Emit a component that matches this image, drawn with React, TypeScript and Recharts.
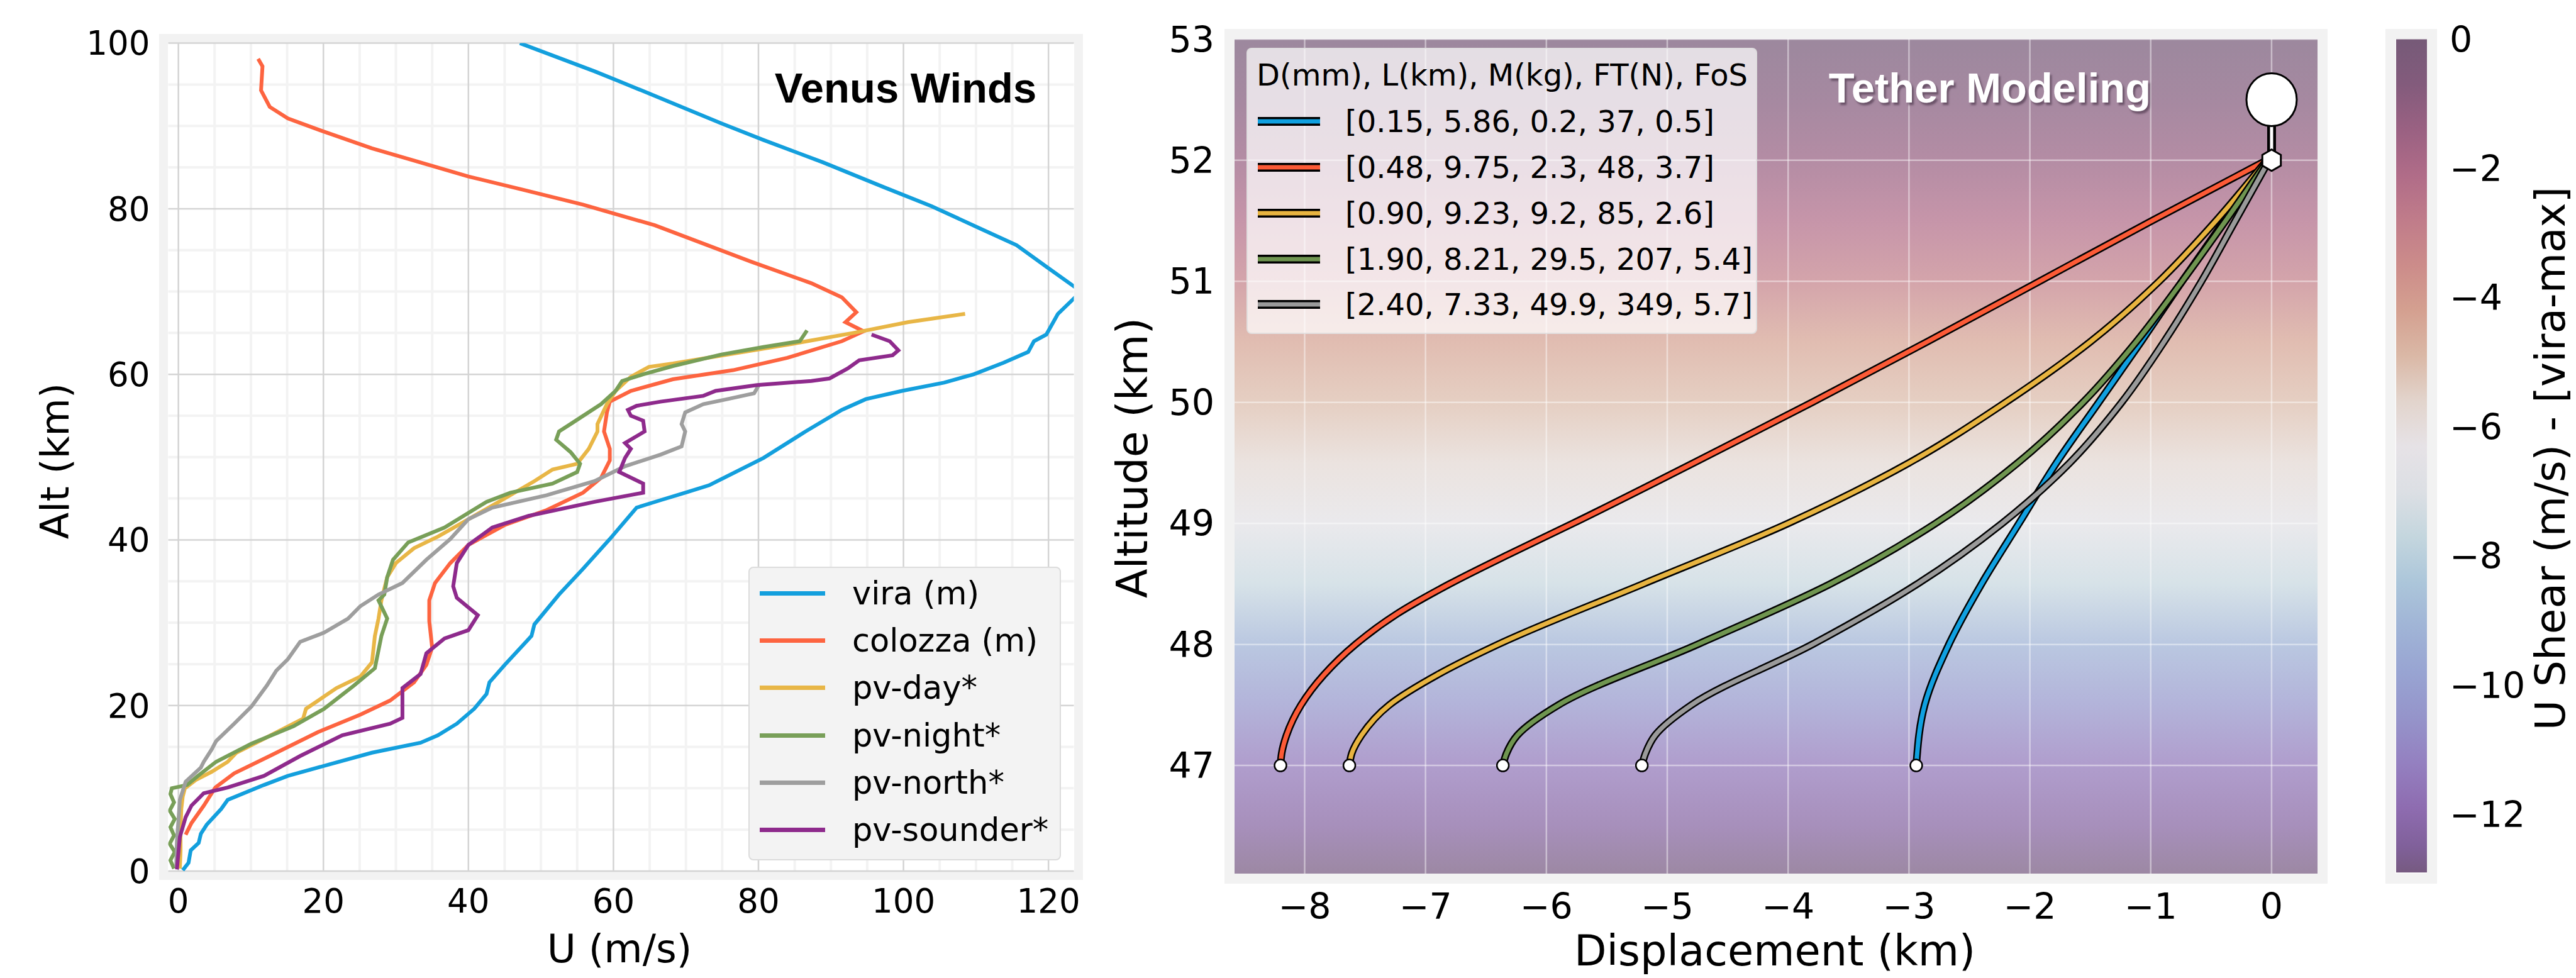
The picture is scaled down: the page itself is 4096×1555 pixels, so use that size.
import React from "react";
import { LineChart, Line, XAxis, YAxis, CartesianGrid, BarChart, Bar } from "recharts";

// ---------- Venus wind profiles: altitude (km) vs zonal wind U (m/s) ----------
const viraAlt = [0.1, 1.0, 2.5, 3.4, 4.5, 5.6, 7.5, 8.6, 10.4, 11.5, 12.9, 14.3, 15.5, 16.4, 17.8, 19.6, 21.4, 22.8, 24.9, 28.4, 29.8, 33.4, 36.5, 40.1, 43.9, 44.8, 45.7, 46.6, 49.9, 53.1, 55.7, 57.0, 58.0, 59.0, 60.0, 61.4, 62.7, 64.0, 64.8, 67.3, 70.0, 73.0, 75.6, 77.6, 80.3, 82.6, 85.6, 88.3, 90.3, 95.4, 96.6, 100];
const viraU = [0.6, 1.4, 1.7, 2.8, 3.1, 3.9, 5.9, 6.8, 11.8, 15.1, 20.9, 26.7, 33.4, 35.8, 38.4, 40.8, 42.5, 42.9, 45.0, 48.7, 49.1, 52.5, 55.8, 59.5, 63.2, 66.5, 69.9, 73.2, 80.7, 86.5, 91.5, 94.8, 99.8, 105.6, 109.7, 113.8, 117.2, 118.0, 119.7, 121.3, 124.5, 119.7, 115.6, 110.6, 103.9, 97.3, 88.9, 80.7, 74.9, 60.8, 57.4, 47.1];

const colozzaAlt = [4.4, 5.8, 7.9, 10.1, 11.8, 13.9, 16.8, 18.9, 20.6, 22.8, 24.9, 27.0, 30.2, 32.7, 34.8, 37.2, 39.4, 41.8, 43.6, 45.7, 47.5, 49.6, 51.0, 53.1, 55.4, 56.7, 58.0, 59.4, 60.5, 62.0, 64.0, 65.2, 66.3, 67.5, 69.3, 71.0, 73.6, 78.0, 80.5, 82.3, 83.9, 87.3, 89.3, 90.9, 92.3, 94.3, 97.2, 98.1];
const colozzaU = [1.0, 1.8, 3.5, 5.1, 7.7, 12.6, 19.3, 25.1, 29.2, 32.5, 34.2, 35.0, 34.6, 34.6, 35.4, 37.5, 40.0, 45.0, 50.8, 55.8, 58.3, 59.5, 59.5, 58.7, 59.1, 59.5, 62.4, 68.2, 76.5, 84.0, 91.5, 94.5, 92.0, 93.5, 91.5, 87.3, 79.0, 65.7, 55.8, 47.5, 40.0, 26.7, 20.1, 15.1, 12.6, 11.4, 11.6, 11.0];

const pvDayAlt = [0.3, 2.5, 5.0, 7.5, 9.0, 10.0, 11.0, 12.0, 13.2, 14.3, 16.2, 18.4, 19.6, 22.1, 23.5, 25.2, 28.4, 30.5, 32.7, 35.5, 37.2, 39.0, 40.4, 42.1, 44.6, 47.1, 48.5, 49.2, 51.0, 53.1, 54.0, 56.4, 58.0, 59.7, 60.9, 61.3, 62.5, 63.7, 65.0, 66.3, 67.3];
const pvDayU = [0.2, 0.3, 0.3, 0.4, 0.6, 0.9, 2.4, 4.6, 6.8, 8.0, 12.3, 17.2, 17.6, 21.8, 25.1, 26.7, 27.1, 27.6, 28.0, 28.8, 30.0, 32.5, 35.8, 39.2, 44.2, 49.1, 51.6, 55.0, 56.6, 57.8, 57.8, 59.1, 60.3, 62.4, 64.9, 68.2, 76.5, 84.8, 93.1, 100.6, 108.5];

const pvNightAlt = [0.3, 1.3, 2.3, 3.3, 4.3, 5.3, 6.3, 7.3, 8.3, 9.3, 10.0, 10.4, 11.5, 13.2, 15.4, 17.5, 19.6, 22.4, 24.5, 28.4, 30.5, 32.7, 33.4, 35.5, 37.6, 39.7, 41.5, 44.6, 45.7, 46.8, 48.2, 49.2, 50.6, 52.1, 53.1, 54.0, 56.4, 58.0, 59.2, 60.0, 61.0, 62.4, 63.3, 64.0, 65.3];
const pvNightU = [-0.6, -1.1, -0.5, -1.2, -0.6, -1.1, -0.5, -1.2, -0.6, -1.1, -0.9, 1.2, 2.7, 5.2, 10.1, 15.9, 20.1, 24.2, 27.1, 28.0, 28.8, 27.6, 28.4, 28.8, 29.6, 31.7, 36.7, 42.5, 45.8, 51.6, 55.0, 55.4, 54.1, 52.1, 52.5, 54.1, 58.3, 60.3, 61.2, 64.1, 68.2, 74.9, 80.7, 85.7, 86.7];

const pvNorthAlt = [0.5, 3.7, 6.0, 8.6, 10.8, 12.5, 13.2, 14.7, 15.7, 17.8, 19.9, 22.4, 24.2, 25.6, 27.7, 28.8, 30.5, 32.0, 33.4, 34.8, 37.6, 40.1, 42.5, 43.9, 45.4, 47.1, 48.9, 50.3, 51.3, 53.1, 54.0, 55.4, 56.4, 57.0, 57.7, 58.6];
const pvNorthU = [-0.3, -0.2, 0.0, 0.2, 1.0, 3.1, 3.5, 4.6, 5.2, 7.7, 10.1, 12.2, 13.5, 15.1, 16.8, 20.1, 23.4, 25.1, 27.6, 30.9, 34.2, 37.5, 40.0, 43.3, 50.8, 57.4, 61.6, 66.5, 69.4, 69.9, 69.4, 69.9, 72.4, 75.7, 79.4, 80.0];

const pvSounderAlt = [0.2, 4.1, 6.5, 7.9, 9.4, 10.1, 11.5, 13.9, 16.4, 17.8, 18.5, 22.1, 23.8, 26.3, 28.1, 29.1, 30.9, 33.0, 34.4, 37.2, 39.4, 41.5, 42.9, 44.6, 45.7, 46.8, 48.2, 49.9, 51.0, 51.7, 53.1, 54.4, 55.0, 55.7, 56.2, 56.7, 57.4, 58.0, 58.7, 59.2, 59.5, 60.7, 61.7, 62.3, 62.9, 64.0, 64.8];
const pvSounderU = [-0.2, 0.2, 1.0, 1.8, 3.5, 6.8, 11.8, 16.8, 22.6, 29.2, 30.9, 30.9, 33.4, 34.2, 36.7, 40.0, 41.3, 38.4, 37.9, 38.4, 40.0, 43.3, 48.3, 57.4, 64.1, 64.1, 60.8, 61.6, 62.4, 61.6, 64.3, 64.1, 62.4, 62.0, 63.2, 66.5, 72.4, 74.1, 79.8, 87.3, 89.8, 92.3, 93.9, 98.5, 99.3, 98.1, 95.6];

const windNames = ["vira (m)", "colozza (m)", "pv-day*", "pv-night*", "pv-north*", "pv-sounder*"];
const windColors = ["#139fdd", "#fd6440", "#e8b646", "#789f58", "#9e9e9e", "#8e2a8c"];

const uTicks = [0, 20, 40, 60, 80, 100, 120];
const uMinor = [5, 10, 15, 25, 30, 35, 45, 50, 55, 65, 70, 75, 85, 90, 95, 105, 110, 115];
const windAltTicks = [0, 20, 40, 60, 80, 100];
const windAltMinor = [5, 10, 15, 25, 30, 35, 45, 50, 55, 65, 70, 75, 85, 90, 95];

// ---------- Tether shapes: altitude (km) vs displacement (km) ----------
const tetherLabels = [
  "[0.15, 5.86, 0.2, 37, 0.5]",
  "[0.48, 9.75, 2.3, 48, 3.7]",
  "[0.90, 9.23, 9.2, 85, 2.6]",
  "[1.90, 8.21, 29.5, 207, 5.4]",
  "[2.40, 7.33, 49.9, 349, 5.7]",
];
const tetherColors = ["#10a0e0", "#fc5a36", "#e8b440", "#6f9550", "#9a9a9a"];

const tether1Alt = [47, 47.5, 48, 48.5, 49, 49.5, 50, 50.5, 51, 51.5, 52];
const tether1Disp = [-2.94, -2.87, -2.67, -2.4, -2.09, -1.78, -1.43, -1.08, -0.74, -0.39, -0.04];
const tether2Alt = [47, 47.1, 47.25, 47.5, 47.75, 48, 48.25, 48.5, 48.75, 49, 49.5, 50, 50.5, 51, 51.5, 52];
const tether2Disp = [-8.2, -8.19, -8.15, -8.03, -7.84, -7.58, -7.24, -6.8, -6.3, -5.78, -4.78, -3.8, -2.85, -1.92, -0.99, -0.04];
const tether3Alt = [47, 47.1, 47.25, 47.5, 47.75, 48, 48.5, 49, 49.5, 50, 50.5, 51, 51.5, 52];
const tether3Disp = [-7.63, -7.61, -7.53, -7.3, -6.9, -6.4, -5.2, -4.0, -3.0, -2.2, -1.5, -0.93, -0.46, -0.04];
const tether4Alt = [47, 47.1, 47.25, 47.5, 48, 48.5, 49, 49.5, 50, 50.5, 51, 51.5, 52];
const tether4Disp = [-6.36, -6.33, -6.24, -5.9, -4.75, -3.65, -2.78, -2.1, -1.56, -1.12, -0.74, -0.38, -0.03];
const tether5Alt = [47, 47.1, 47.25, 47.5, 48, 48.5, 49, 49.5, 50, 50.5, 51, 51.5, 52];
const tether5Disp = [-5.21, -5.18, -5.1, -4.8, -3.8, -2.93, -2.23, -1.67, -1.24, -0.89, -0.58, -0.3, -0.02];

const balloonAlt = [52, 52.5];
const balloonDisp = [0, 0];

const dispTicks = [-8, -7, -6, -5, -4, -3, -2, -1, 0];
const tetherAltTicks = [47, 48, 49, 50, 51, 52, 53];

// ---------- U shear colour field ----------
const shearAlt = [53, 52.5, 52, 51.5, 51, 50.5, 50, 49.5, 49, 48.5, 48, 47.5, 47, 46.5, 46.1];
const shearVal = [0, -0.7, -1.3, -2.1, -3.0, -4.3, -5.0, -5.8, -6.6, -7.6, -9.2, -10.4, -11.5, -12.3, -12.9];

const cmapVal = [0, -0.7, -1.4, -2.1, -2.8, -3.5, -4.2, -4.9, -5.6, -6.3, -7.0, -7.7, -8.4, -9.1, -9.8, -10.5, -11.2, -11.9, -12.5, -12.9];
const cmapColor = ["#765a78", "#835b7c", "#9a6182", "#b06c88", "#c07c8a", "#cc8c8a", "#d4a090", "#dab8a6", "#e2d4cc", "#e6e2e6", "#dcdfe4", "#c4d6de", "#acc6da", "#a0b4d6", "#98a4d2", "#9594ca", "#9480c0", "#8e6cb0", "#80609a", "#765a80"];
const cbarTicks = [0, -2, -4, -6, -8, -10, -12];
const cbarLevels = [-0.42, -1.11, -1.79, -2.45, -3.14, -3.81, -4.49, -5.16, -5.84, -6.52, -7.18, -7.85, -8.53, -9.23, -9.9, -10.59, -11.25, -11.94, -12.61];

const FONT = "'DejaVu Sans', sans-serif";

const rgb = (c: string) => [1, 3, 5].map((i) => parseInt(c.slice(i, i + 2), 16));
function cmap(v: number) {
  for (let i = 0; i < cmapVal.length - 1; i++) {
    const a = cmapVal[i];
    const b = cmapVal[i + 1];
    if (v <= a && v >= b) {
      const t = (a - v) / (a - b);
      const ca = rgb(cmapColor[i]);
      const cb = rgb(cmapColor[i + 1]);
      return `rgb(${ca.map((x, k) => Math.round(x + (cb[k] - x) * t)).join(",")})`;
    }
  }
  return v > cmapVal[0] ? cmapColor[0] : cmapColor[cmapColor.length - 1];
}

const zip = (alt: number[], vals: number[], key: string) => alt.map((a, i) => ({ alt: a, [key]: vals[i] }));

const windData = [
  zip(viraAlt, viraU, "u"),
  zip(colozzaAlt, colozzaU, "u"),
  zip(pvDayAlt, pvDayU, "u"),
  zip(pvNightAlt, pvNightU, "u"),
  zip(pvNorthAlt, pvNorthU, "u"),
  zip(pvSounderAlt, pvSounderU, "u"),
];
const tetherData = [
  zip(tether1Alt, tether1Disp, "d"),
  zip(tether2Alt, tether2Disp, "d"),
  zip(tether3Alt, tether3Disp, "d"),
  zip(tether4Alt, tether4Disp, "d"),
  zip(tether5Alt, tether5Disp, "d"),
];
const balloonData = zip(balloonAlt, balloonDisp, "d");

const tetherYDomain: [number, number] = [46.107, 53];
const cbarDomain: [number, number] = [cmapVal[cmapVal.length - 1], cmapVal[0]];
const cbarData = [{ name: "shear", range: cbarDomain }];

const minus = (v: number) => (v < 0 ? `\u2212${Math.abs(v)}` : `${v}`);

function EndDot(props: any) {
  const { cx, cy, index } = props;
  if (index !== 0 || cx == null || cy == null) return <g />;
  return <circle cx={cx} cy={cy} r={9.5} fill="#ffffff" stroke="#000000" strokeWidth={2.5} />;
}

function BalloonDot(props: any) {
  const { cx, cy, index } = props;
  if (cx == null || cy == null) return <g />;
  if (index === 0) {
    const r = 17;
    const pts = [0, 1, 2, 3, 4, 5]
      .map((k) => {
        const a = Math.PI / 2 + (k * Math.PI) / 3;
        return `${cx + r * Math.cos(a)},${cy + r * Math.sin(a)}`;
      })
      .join(" ");
    return <polygon points={pts} fill="#ffffff" stroke="#000000" strokeWidth={3} />;
  }
  return <ellipse cx={cx} cy={cy} rx={40} ry={42} fill="#ffffff" stroke="#000000" strokeWidth={3} />;
}

function Label({ x, y, size, rotate, children, style }: any) {
  return (
    <div
      style={{
        position: "absolute",
        left: x,
        top: y,
        transform: `translate(-50%, -50%)${rotate ? " rotate(-90deg)" : ""}`,
        fontSize: size,
        lineHeight: 1,
        whiteSpace: "nowrap",
        color: "#000",
        fontFamily: FONT,
        ...style,
      }}
    >
      {children}
    </div>
  );
}

function WindChart() {
  return (
    <div style={{ position: "absolute", left: 0, top: 0 }}>
      <LineChart width={1760} height={1555} layout="vertical" margin={{ top: 68.6, right: 52.5, bottom: 0, left: 0 }}>
        <CartesianGrid stroke="#f3f3f3" strokeWidth={4} verticalValues={uMinor} horizontalValues={windAltMinor} syncWithTicks />
        <CartesianGrid stroke="#d4d4d4" strokeWidth={2.5} syncWithTicks />
        <XAxis
          type="number"
          domain={[-1.4, 123.5]}
          allowDataOverflow
          ticks={uTicks}
          interval={0}
          height={170}
          tickSize={0}
          tickMargin={28}
          axisLine={false}
          tickLine={false}
          tick={{ fontSize: 53, fill: "#000", fontFamily: FONT }}
        />
        <YAxis
          type="number"
          dataKey="alt"
          domain={[0, 100]}
          reversed
          allowDataOverflow
          ticks={windAltTicks}
          interval={0}
          width={267.5}
          tickSize={0}
          tickMargin={29}
          axisLine={false}
          tickLine={false}
          tick={{ fontSize: 53, fill: "#000", fontFamily: FONT }}
        />
        {windData.map((d, i) => (
          <Line
            key={windNames[i]}
            data={d}
            dataKey="u"
            type="linear"
            stroke={windColors[i]}
            strokeWidth={6}
            dot={false}
            isAnimationActive={false}
          />
        ))}
      </LineChart>
    </div>
  );
}

function TetherChart() {
  const bgStops = shearAlt.map((a, i) => (
    <stop
      key={a}
      offset={Math.min(1, Math.max(0, (tetherYDomain[1] - a) / (tetherYDomain[1] - tetherYDomain[0])))}
      stopColor={cmap(shearVal[i])}
    />
  ));
  return (
    <div style={{ position: "absolute", left: 1830, top: 0 }}>
      <LineChart width={1890} height={1555} layout="vertical" margin={{ top: 62.3, right: 35, bottom: 0, left: 0 }}>
        <defs>
          <linearGradient id="shearBg" x1="0" y1="0" x2="0" y2="1">
            {bgStops}
          </linearGradient>
        </defs>
        <CartesianGrid fill="url(#shearBg)" fillOpacity={0.72} stroke="#ffffff" strokeOpacity={0.45} strokeWidth={2.5} syncWithTicks />
        <XAxis
          type="number"
          domain={[-8.58, 0.38]}
          allowDataOverflow
          ticks={dispTicks}
          interval={0}
          tickFormatter={minus}
          height={166}
          tickSize={0}
          tickMargin={32}
          axisLine={false}
          tickLine={false}
          tick={{ fontSize: 57, fill: "#000", fontFamily: FONT }}
        />
        <YAxis
          type="number"
          dataKey="alt"
          domain={tetherYDomain}
          reversed
          allowDataOverflow
          ticks={tetherAltTicks}
          interval={0}
          width={133}
          tickSize={0}
          tickMargin={32}
          axisLine={false}
          tickLine={false}
          tick={{ fontSize: 57, fill: "#000", fontFamily: FONT }}
        />
        {tetherData.flatMap((d, i) => [
          <Line
            key={`edge-${i}`}
            data={d}
            dataKey="d"
            type="monotone"
            stroke="#000000"
            strokeWidth={12}
            dot={false}
            isAnimationActive={false}
          />,
          <Line
            key={`tether-${i}`}
            data={d}
            dataKey="d"
            type="monotone"
            stroke={tetherColors[i]}
            strokeWidth={7}
            dot={(p: any) => <EndDot key={`e-${i}-${p.index}`} {...p} />}
            isAnimationActive={false}
          />,
        ])}
        <Line data={balloonData} dataKey="d" type="linear" stroke="#000000" strokeWidth={14} dot={false} isAnimationActive={false} />
        <Line
          data={balloonData}
          dataKey="d"
          type="linear"
          stroke="#ffffff"
          strokeWidth={5}
          dot={(p: any) => <BalloonDot key={`b-${p.index}`} {...p} />}
          isAnimationActive={false}
        />
      </LineChart>
    </div>
  );
}

function ColorBar() {
  const span = cbarDomain[1] - cbarDomain[0];
  return (
    <div style={{ position: "absolute", left: 3809.5, top: 0 }}>
      <BarChart width={400} height={1555} data={cbarData} margin={{ top: 62.3, right: 0, bottom: 167.5, left: 0 }} barCategoryGap={0}>
        <defs>
          <linearGradient id="cbarGrad" x1="0" y1="0" x2="0" y2="1">
            {cmapVal.map((v, i) => (
              <stop key={v} offset={(cbarDomain[1] - v) / span} stopColor={cmapColor[i]} />
            ))}
          </linearGradient>
        </defs>
        <XAxis dataKey="name" hide />
        <YAxis
          orientation="right"
          type="number"
          domain={cbarDomain}
          allowDataOverflow
          ticks={cbarTicks}
          interval={0}
          tickFormatter={minus}
          width={351}
          tickSize={0}
          tickMargin={36}
          axisLine={false}
          tickLine={false}
          tick={{ fontSize: 57, fill: "#000", fontFamily: FONT }}
        />
        <Bar dataKey="range" fill="url(#cbarGrad)" isAnimationActive={false} />
        <CartesianGrid vertical={false} horizontalValues={cbarLevels} syncWithTicks stroke="#5a3a5a" strokeOpacity={0.25} strokeWidth={1.5} />
      </BarChart>
    </div>
  );
}

function WindLegend() {
  return (
    <div
      style={{
        position: "absolute",
        left: 1190,
        top: 901,
        width: 497,
        height: 467,
        boxSizing: "border-box",
        background: "#f3f3f3",
        border: "2px solid #dcdcdc",
        borderRadius: 8,
        paddingTop: 3,
      }}
    >
      {windNames.map((n, i) => (
        <div key={n} style={{ height: 75.2, display: "flex", alignItems: "center" }}>
          <div style={{ marginLeft: 16, width: 104, height: 7, background: windColors[i] }} />
          <div style={{ marginLeft: 43, fontSize: 51, fontFamily: FONT, color: "#000", lineHeight: 1 }}>{n}</div>
        </div>
      ))}
    </div>
  );
}

function TetherLegend() {
  return (
    <div
      style={{
        position: "absolute",
        left: 1982,
        top: 76,
        width: 812,
        height: 455,
        boxSizing: "border-box",
        background: "rgba(255,255,255,0.72)",
        border: "2px solid rgba(220,220,220,0.8)",
        borderRadius: 8,
        paddingTop: 4,
      }}
    >
      <div style={{ height: 74.8, display: "flex", alignItems: "center", paddingLeft: 14, fontSize: 48, fontFamily: FONT, lineHeight: 1 }}>
        D(mm), L(km), M(kg), FT(N), FoS
      </div>
      {tetherLabels.map((t, i) => (
        <div key={t} style={{ height: 72.8, display: "flex", alignItems: "center" }}>
          <svg width={99} height={14} style={{ marginLeft: 16 }}>
            <rect x={0} y={0} width={99} height={14} fill="#000" />
            <rect x={0} y={3.5} width={99} height={7} fill={tetherColors[i]} />
          </svg>
          <div style={{ marginLeft: 40, fontSize: 48, fontFamily: FONT, lineHeight: 1 }}>{t}</div>
        </div>
      ))}
    </div>
  );
}

export default function App() {
  return (
    <div
      style={{
        position: "absolute",
        left: 0,
        top: 0,
        width: 4096,
        height: 1555,
        overflow: "hidden",
        background: "#ffffff",
        fontFamily: FONT,
      }}
    >
      {/* plot frames */}
      <div style={{ position: "absolute", left: 253, top: 54, width: 1469, height: 1345.2, boxSizing: "border-box", border: "14.5px solid #f2f2f2", background: "#fff" }} />
      <div style={{ position: "absolute", left: 1947, top: 46.3, width: 1754, height: 1359.2, boxSizing: "border-box", border: "16px solid #f2f2f2", background: "#fff" }} />
      <div style={{ position: "absolute", left: 3793, top: 46.3, width: 82, height: 1359.2, boxSizing: "border-box", border: "16.5px solid #f2f2f2", background: "#fff" }} />

      <WindChart />
      <TetherChart />
      <ColorBar />

      <WindLegend />
      <TetherLegend />

      <Label x={1440} y={139} size={67} style={{ fontFamily: "'Liberation Sans', Arial, sans-serif", fontWeight: 700 }}>
        Venus Winds
      </Label>
      <Label
        x={3164}
        y={139}
        size={67}
        style={{ fontFamily: "'Liberation Sans', Arial, sans-serif", fontWeight: 700, color: "#ffffff", textShadow: "3px 4px 3px rgba(60,40,60,0.55)" }}
      >
        Tether Modeling
      </Label>

      <Label x={88} y={733} size={62} rotate>
        Alt (km)
      </Label>
      <Label x={985} y={1508} size={63}>
        U (m/s)
      </Label>
      <Label x={1801} y={728} size={68} rotate>
        Altitude (km)
      </Label>
      <Label x={2822} y={1512} size={67}>
        Displacement (km)
      </Label>
      <Label x={4056} y={729} size={66} rotate>
        U Shear (m/s) - [vira-max]
      </Label>
    </div>
  );
}
